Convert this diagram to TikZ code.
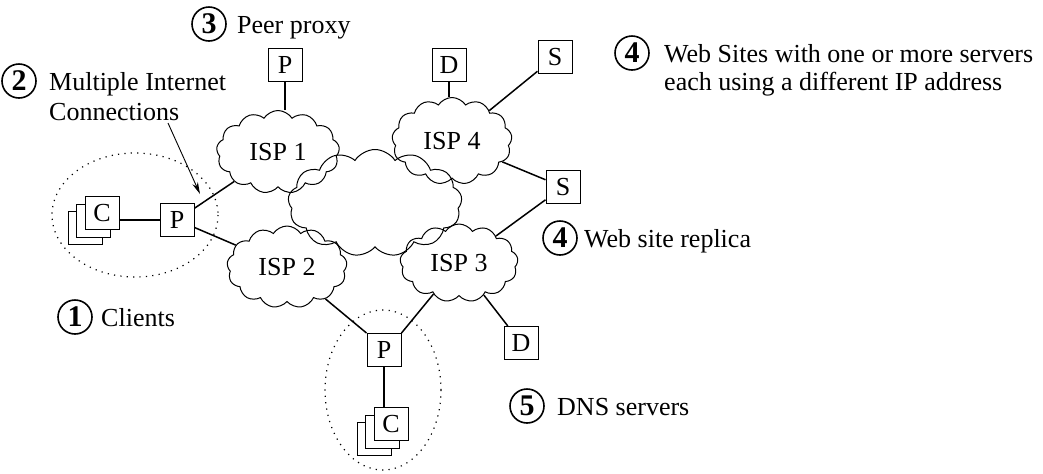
\documentclass[tikz,border=0pt]{standalone}
\usepackage{fontspec}
\setmainfont{Liberation Serif}
\usetikzlibrary{positioning, shapes.symbols, shadows, arrows.meta}

\begin{document}
\begin{tikzpicture}[
    x=0.5pt, y=-0.5pt,
    font=\fontsize{13}{14}\selectfont,
    isp/.style={cloud, draw, cloud puffs=13, cloud puff arc=115,
                cloud ignores aspect, line width=0.5pt, inner sep=0pt},
    box/.style={draw, fill=white, line width=0.5pt, minimum width=17pt,
                minimum height=16.5pt, inner sep=0pt},
    stack/.style={box, double copy shadow={shadow xshift=-4.2pt, shadow yshift=-3.8pt}},
    num/.style={circle, draw, line width=0.8pt, minimum size=17pt, inner sep=0pt,
                font=\fontsize{15}{16}\selectfont\bfseries},
    lbl/.style={inner sep=0pt, anchor=base west, align=left},
    link/.style={line width=0.75pt},
    ring/.style={dash pattern=on 0.6pt off 2.6pt, line width=0.6pt},
    arr/.style={-{Stealth[length=6pt, width=3pt]}, line width=0.45pt},
]
\useasboundingbox (0,0) rectangle (1043,473);

% Backbone and ISP clouds
\node[isp, minimum width=87pt, minimum height=53.5pt] (core) at (375,203) {};
\node[isp, minimum width=61.5pt, minimum height=41.5pt] (isp1) at (278,152) {ISP 1};
\node[isp, minimum width=60pt, minimum height=43.5pt] (isp4) at (452,141) {ISP 4};
\node[isp, minimum width=60pt, minimum height=41pt] (isp2) at (287,267) {ISP 2};
\node[isp, minimum width=59pt, minimum height=39pt] (isp3) at (459,263) {ISP 3};

% Proxies, servers and clients
\node[box] (pp) at (285,65) {P};
\node[box] (dt) at (449,65) {D};
\node[box] (st) at (555,57) {S};
\node[box] (sr) at (563,187) {S};
\node[box] (db) at (521,343) {D};
\node[box] (pl) at (177,220) {P};
\node[stack] (cl) at (102,213) {C};
\node[box] (pb) at (384,350) {P};
\node[stack] (cb) at (391,424) {C};

% Links
\draw[link] (pl.west) -- (pl.west -| cl.east);
\draw[link] (pl) -- (isp1);
\draw[link] (pl) -- (isp2);
\draw[link] (pp) -- (pp |- isp1.north);
\draw[link] (dt) -- (dt |- isp4.north);
\draw[link] (st) -- (isp4);
\draw[link] (isp4) -- (sr);
\draw[link] (sr) -- (isp3);
\draw[link] (isp3) -- (db);
\draw[link] (isp2) -- (pb.north west);
\draw[link] (isp3) -- (pb.north east);
\draw[link] (pb.south) -- (pb.south |- cb.north);

% Client groups
\draw[ring] (135,215) ellipse [x radius=83, y radius=62];
\draw[ring] (383,390) ellipse [x radius=58, y radius=80];

% Numbered labels
\node[num] (n1) at (75,317) {1};
\node[lbl] (t1) at ([xshift=4pt]n1.east |- n1.base) {Clients};
\node[num] (n2) at (19,81) {2};
\node[lbl] (t2) at ([xshift=6pt, yshift=-15pt]n2.east |- n2.base) {Multiple Internet\\[1pt]Connections};
\node[num] (n3) at (209,24) {3};
\node[lbl] (t3) at ([xshift=5pt]n3.east |- n3.base) {Peer proxy};
\node[num] (n4) at (632,53) {4};
\node[lbl] (t4) at ([xshift=7pt, yshift=-14pt]n4.east |- n4.base) {Web Sites with one or more servers\\each using a different IP address};
\node[num] (n4r) at (560,238) {4};
\node[lbl] (t4r) at ([xshift=3pt]n4r.east |- n4r.base) {Web site replica};
\node[num] (n5) at (527,406) {5};
\node[lbl] (t5) at ([xshift=6pt]n5.east |- n5.base) {DNS servers};

% Pointer to the multi-homed proxy
\coordinate (a2) at (168,123);
\coordinate (b2) at (200,194);
\draw[arr] (a2) -- (b2);
\end{tikzpicture}
\end{document}
